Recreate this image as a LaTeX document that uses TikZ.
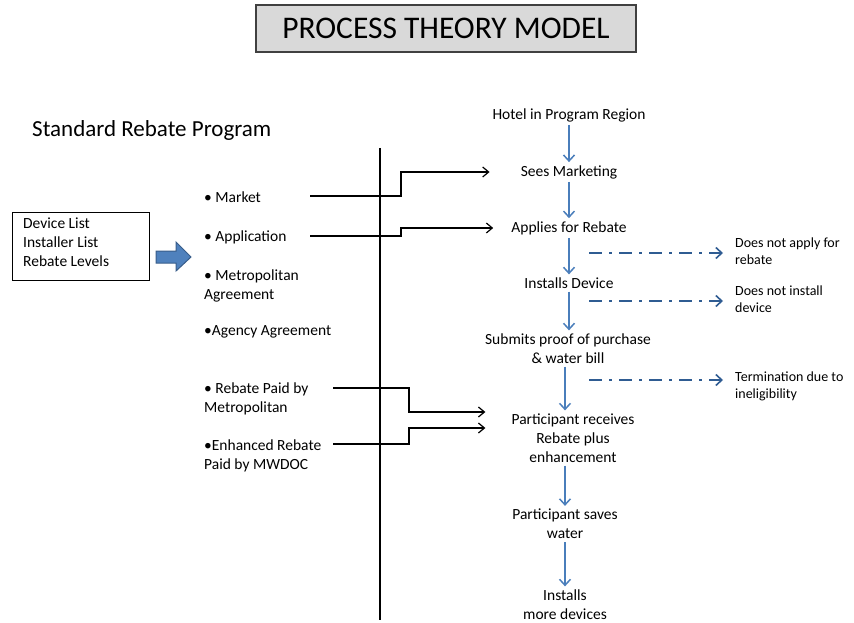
\documentclass[tikz,border=0pt]{standalone}
\usepackage{fontspec}
\setmainfont{Carlito}
\usetikzlibrary{arrows.meta,calc}

\definecolor{flowblue}{HTML}{4A7EBB}
\definecolor{exitblue}{HTML}{2F5C92}
\definecolor{blockfill}{HTML}{4F81BD}
\definecolor{blockedge}{HTML}{385D8A}
\definecolor{titlegray}{HTML}{D9D9D9}

\tikzset{
  txt/.style={inner sep=0pt, align=center, font=\fontsize{15.5}{19}\selectfont},
  lefttxt/.style={inner sep=0pt, align=left, anchor=west, font=\fontsize{15.5}{19}\selectfont},
  sidetxt/.style={inner sep=0pt, align=left, anchor=west, font=\fontsize{14}{17}\selectfont},
  flow/.style={draw=flowblue, line width=1.5pt, -{Straight Barb[length=6pt,width=11pt]}},
  exitflow/.style={draw=exitblue, line width=1.6pt, dash pattern=on 13pt off 7pt on 3pt off 7pt,
    -{Straight Barb[length=6pt,width=11pt]}},
  conn/.style={draw=black, line width=1.2pt, -{Straight Barb[length=6pt,width=10pt]}},
}

\begin{document}
\begin{tikzpicture}[x=1pt, y=-1pt]
\useasboundingbox (0,0) rectangle (854,623);

% title banner
\node[draw=black!75, fill=titlegray, line width=1.2pt, minimum width=380pt, minimum height=47pt,
      inner sep=0pt, font=\fontsize{31.5}{36}\selectfont] (title) at (446,28.5) {PROCESS THEORY MODEL};

\node[inner sep=0pt, anchor=west, font=\fontsize{23}{28}\selectfont] (program) at (32,130) {Standard Rebate Program};

% inputs box and block arrow
\node[draw=black, line width=0.9pt, minimum width=137pt, minimum height=68pt, inner sep=0pt] (inputs) at (80.5,246) {};
\node[lefttxt, anchor=north west, font=\fontsize{15.5}{19.3}\selectfont] (inputlist) at (23,217.5) {Device List\\Installer List\\Rebate Levels};
\draw[fill=blockfill, draw=blockedge, line width=1pt]
  (156,251) -- (176,251) -- (176,242) -- (191,257) -- (176,271) -- (176,263) -- (156,263) -- cycle;

% dividing line
\coordinate (divtop) at (380,148);
\coordinate (divbot) at (380,620);
\draw[line width=2.4pt] (divtop) -- (divbot);

% program components
\node[lefttxt] (market) at (204,197) {\textbullet\ Market};
\node[lefttxt] (application) at (204,237) {\textbullet\ Application};
\node[lefttxt] (metro) at (204,286) {\textbullet\ Metropolitan\\Agreement};
\node[lefttxt] (agency) at (204,332) {\textbullet Agency Agreement};
\node[lefttxt] (paidmet) at (204,399) {\textbullet\ Rebate Paid by\\Metropolitan};
\node[lefttxt] (paidmw) at (204,456) {\textbullet Enhanced Rebate\\Paid by MWDOC};

% process steps
\node[txt] (hotel) at (569,115) {Hotel in Program Region};
\node[txt] (sees) at (569,172) {Sees Marketing};
\node[txt] (applies) at (569,228) {Applies for Rebate};
\node[txt] (installs) at (569,283) {Installs Device};
\node[txt] (submits) at (568,348.5) {Submits proof of purchase\\\& water bill};
\node[txt] (receives) at (573,438) {Participant receives\\Rebate plus\\enhancement};
\node[txt] (saves) at (565,524) {Participant saves\\water};
\node[txt] (more) at (565,604.5) {Installs\\more devices};

% main flow
\draw[flow, shorten <=3pt, shorten >=3pt] (hotel.south) -- (hotel.south |- sees.north);
\draw[flow, shorten <=3pt, shorten >=3pt] (sees.south) -- (sees.south |- applies.north);
\draw[flow, shorten <=3pt, shorten >=3pt] (applies.south) -- (applies.south |- installs.north);
\draw[flow, shorten <=3pt, shorten >=3pt] (installs.south) -- (installs.south |- submits.north);
\draw[flow, shorten <=3pt, shorten >=3pt] ([xshift=-3pt]submits.south) -- ([xshift=-3pt]submits.south |- receives.north);
\draw[flow, shorten <=3pt, shorten >=3pt] ([xshift=-8pt]receives.south) -- ([xshift=-8pt]receives.south |- saves.north);
\draw[flow, shorten <=3pt, shorten >=3pt] (saves.south) -- (saves.south |- more.north);

% exits
\node[sidetxt] (noapply) at (735,251.5) {Does not apply for\\rebate};
\node[sidetxt] (noinstall) at (735,299.5) {Does not install\\device};
\node[sidetxt] (terminate) at (735,386.5) {Termination due to\\ineligibility};
\coordinate (x1) at (589,253);
\coordinate (x2) at (589,301);
\coordinate (x3) at (589,380);
\draw[exitflow, shorten >=12pt] (x1) -- (noapply.west |- x1);
\draw[exitflow, shorten >=12pt] (x2) -- (noinstall.west |- x2);
\draw[exitflow, shorten >=12pt] (x3) -- (terminate.west |- x3);

% program components feeding the process
\coordinate (mkt) at (310,196);
\coordinate (app) at (310,236);
\coordinate (pm) at (333,388);
\coordinate (pw) at (333,444);
\draw[conn, shorten >=31pt] (mkt) -- (401,196) |- (sees.west);
\draw[conn, shorten >=18pt] (app) -- (401,236) |- ([yshift=0pt]applies.west);
\draw[conn] (pm) -- (409,388) |- ([xshift=-26pt,yshift=26pt]receives.west);
\draw[conn] (pw) -- (409,444) |- ([xshift=-26pt,yshift=10pt]receives.west);
\end{tikzpicture}
\end{document}
